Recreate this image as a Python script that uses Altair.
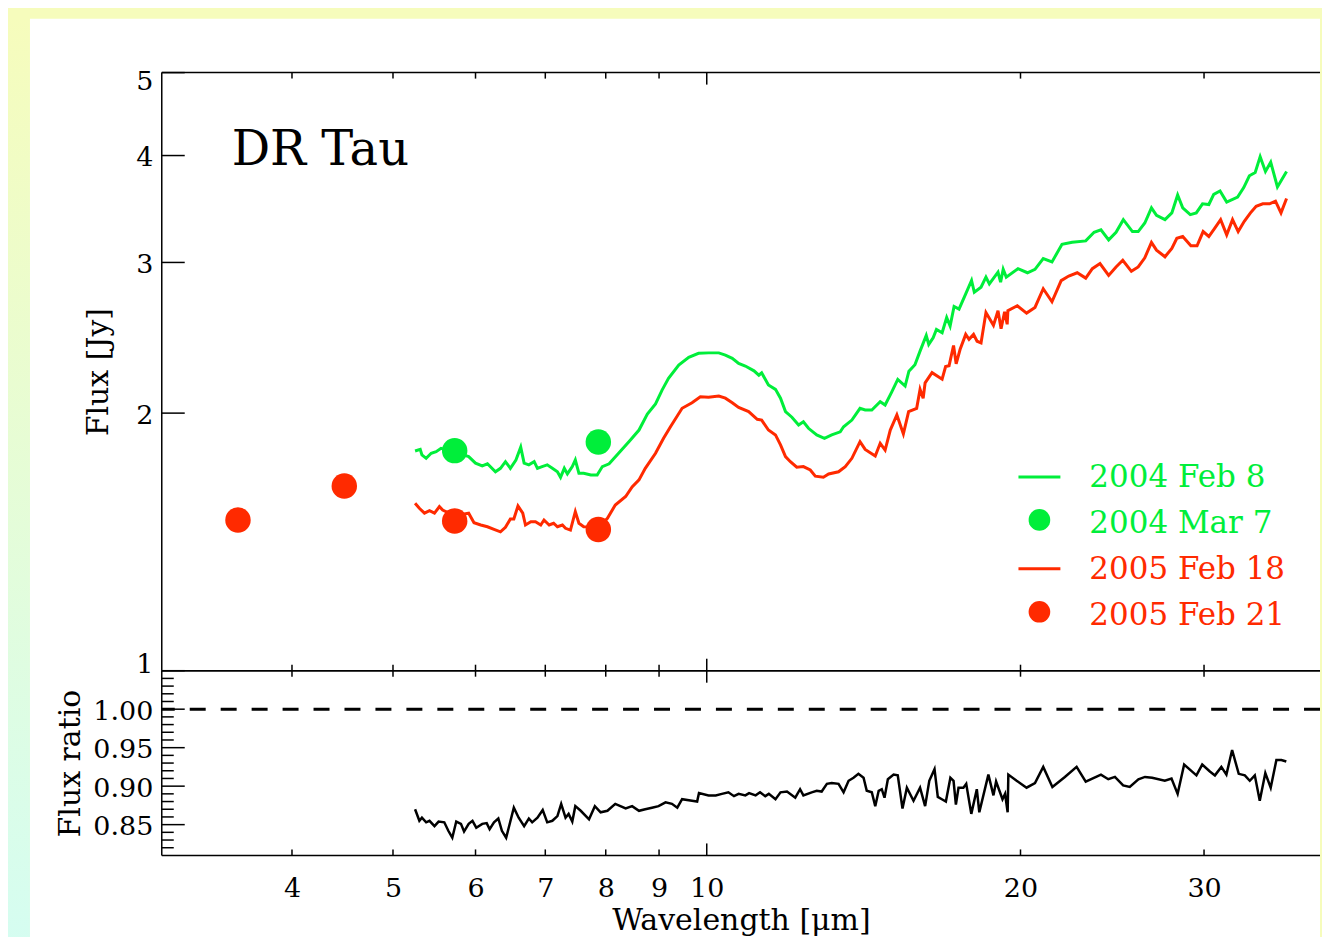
import altair as alt
import pandas as pd

FONT = "DejaVu Serif"
GREEN = "#00ee3a"
RED = "#ff2a00"
YELLOW = "#f6fcbc"
CYAN = "#d5fdf1"

# ---------------- data ----------------
wl_2004_feb8 = [5.25, 5.31, 5.33, 5.38, 5.44, 5.50, 5.56, 5.73, 5.91, 6.00,
                6.09, 6.16, 6.27, 6.34, 6.41, 6.48, 6.56, 6.63, 6.68, 6.75,
                6.83, 6.88, 6.95, 7.03, 7.11, 7.19, 7.24, 7.30, 7.35, 7.43,
                7.48, 7.54, 7.62, 7.74, 7.85, 7.94, 8.06, 8.23, 8.42, 8.61,
                8.77, 8.93, 9.06, 9.19, 9.40, 9.61, 9.82, 10.04, 10.27, 10.42,
                10.58, 10.73, 10.89, 11.10, 11.22, 11.29, 11.46, 11.64, 11.77, 11.90,
                12.07, 12.25, 12.38, 12.52, 12.75, 12.97, 13.18, 13.43, 13.53, 13.78,
                14.03, 14.19, 14.40, 14.67, 14.83, 15.05, 15.25, 15.50, 15.63, 15.84,
                16.02, 16.24, 16.33, 16.49, 16.61, 16.82, 16.99, 17.12, 17.27, 17.46,
                17.72, 17.95, 18.06, 18.33, 18.53, 18.67, 19.03, 19.14, 19.25, 19.38,
                19.89, 20.31, 20.65, 21.03, 21.44, 21.92, 22.42, 23.10, 23.53, 23.89,
                24.30, 24.70, 25.10, 25.61, 25.94, 26.32, 26.71, 27.01, 27.52, 27.94,
                28.30, 28.62, 29.10, 29.49, 29.90, 30.32, 30.65, 31.08, 31.54, 32.31,
                32.75, 33.16, 33.59, 33.96, 34.36, 34.76, 35.28, 36.00]
flux_2004_feb8 = [1.806, 1.814, 1.787, 1.771, 1.795, 1.803, 1.819, 1.801, 1.779, 1.748,
                  1.735, 1.745, 1.708, 1.724, 1.755, 1.724, 1.763, 1.825, 1.748, 1.740,
                  1.755, 1.724, 1.732, 1.740, 1.724, 1.708, 1.683, 1.724, 1.698, 1.732,
                  1.763, 1.701, 1.701, 1.693, 1.693, 1.732, 1.745, 1.795, 1.852, 1.911,
                  1.995, 2.050, 2.128, 2.196, 2.276, 2.324, 2.349, 2.352, 2.352, 2.338,
                  2.318, 2.286, 2.270, 2.241, 2.215, 2.229, 2.157, 2.132, 2.082, 2.008,
                  1.978, 1.937, 1.954, 1.920, 1.886, 1.869, 1.886, 1.902, 1.928, 1.963,
                  2.026, 2.017, 2.017, 2.062, 2.044, 2.118, 2.190, 2.151, 2.239, 2.278,
                  2.363, 2.465, 2.406, 2.450, 2.505, 2.483, 2.587, 2.528, 2.665, 2.646,
                  2.757, 2.858, 2.769, 2.807, 2.884, 2.832, 2.923, 2.845, 2.945, 2.884,
                  2.950, 2.918, 2.945, 3.032, 3.004, 3.150, 3.167, 3.179, 3.254, 3.275,
                  3.188, 3.254, 3.366, 3.260, 3.260, 3.336, 3.475, 3.406, 3.366, 3.428,
                  3.597, 3.475, 3.412, 3.428, 3.513, 3.506, 3.603, 3.636, 3.529, 3.576,
                  3.669, 3.788, 3.822, 3.988, 3.833, 3.929, 3.676, 3.833]

wl_2005_feb18 = [5.25, 5.30, 5.36, 5.42, 5.48, 5.54, 5.58, 5.73, 5.91, 5.98,
                 6.07, 6.16, 6.25, 6.34, 6.41, 6.48, 6.53, 6.59, 6.66, 6.70,
                 6.78, 6.85, 6.93, 6.98, 7.06, 7.13, 7.19, 7.27, 7.32, 7.40,
                 7.48, 7.54, 7.62, 7.88, 8.03, 8.17, 8.36, 8.48, 8.61, 8.73,
                 8.93, 9.09, 9.23, 9.47, 9.68, 9.86, 10.04, 10.27, 10.42, 10.58,
                 10.73, 10.97, 11.18, 11.29, 11.46, 11.64, 11.77, 11.90, 12.03, 12.20,
                 12.38, 12.57, 12.71, 12.94, 13.09, 13.38, 13.58, 13.78, 14.03, 14.19,
                 14.51, 14.67, 14.83, 15.00, 15.22, 15.44, 15.62, 15.90, 16.02, 16.13,
                 16.20, 16.45, 16.82, 16.95, 17.08, 17.25, 17.35, 17.50, 17.72, 17.85,
                 18.03, 18.17, 18.33, 18.53, 18.84, 19.03, 19.16, 19.31, 19.42, 19.45,
                 19.86, 20.27, 20.65, 21.03, 21.44, 21.88, 22.25, 22.67, 23.10, 23.44,
                 23.84, 24.30, 24.70, 25.07, 25.55, 25.94, 26.32, 26.71, 27.01, 27.52,
                 27.94, 28.25, 28.62, 29.14, 29.54, 29.94, 30.32, 30.71, 31.12, 31.54,
                 31.95, 32.35, 32.79, 33.24, 33.66, 34.16, 34.68, 35.13, 35.56, 36.00]
flux_2005_feb18 = [1.569, 1.548, 1.528, 1.538, 1.528, 1.555, 1.541, 1.517, 1.528, 1.489,
                   1.480, 1.473, 1.463, 1.453, 1.471, 1.504, 1.504, 1.558, 1.528, 1.480,
                   1.493, 1.493, 1.480, 1.500, 1.480, 1.487, 1.473, 1.480, 1.467, 1.460,
                   1.534, 1.487, 1.473, 1.472, 1.507, 1.562, 1.598, 1.640, 1.671, 1.724,
                   1.795, 1.869, 1.928, 2.026, 2.057, 2.090, 2.087, 2.094, 2.082, 2.057,
                   2.031, 2.008, 1.967, 1.963, 1.911, 1.886, 1.836, 1.779, 1.755, 1.729,
                   1.732, 1.716, 1.688, 1.683, 1.698, 1.708, 1.732, 1.771, 1.852, 1.814,
                   1.782, 1.844, 1.811, 1.911, 1.990, 1.891, 2.008, 2.026, 2.132, 2.082,
                   2.170, 2.230, 2.191, 2.267, 2.272, 2.399, 2.284, 2.373, 2.472, 2.439,
                   2.472, 2.427, 2.416, 2.622, 2.533, 2.634, 2.510, 2.627, 2.540, 2.634,
                   2.670, 2.618, 2.658, 2.795, 2.699, 2.857, 2.892, 2.918, 2.876, 2.950,
                   2.991, 2.897, 2.964, 3.018, 2.929, 2.964, 3.038, 3.167, 3.101, 3.046,
                   3.116, 3.202, 3.217, 3.138, 3.138, 3.260, 3.217, 3.289, 3.366, 3.231,
                   3.366, 3.260, 3.351, 3.428, 3.490, 3.513, 3.513, 3.538, 3.428, 3.564]

irac_wl_2004_mar7 = [5.73, 7.87]
irac_flux_2004_mar7 = [1.808, 1.850]
irac_wl_2005_feb21 = [3.55, 4.49, 5.73, 7.87]
irac_flux_2005_feb21 = [1.500, 1.644, 1.496, 1.462]

ratio_wl = [5.25, 5.30, 5.33, 5.38, 5.42, 5.48, 5.53, 5.60, 5.65, 5.70,
            5.75, 5.81, 5.85, 5.91, 5.96, 6.01, 6.09, 6.15, 6.19, 6.25,
            6.31, 6.36, 6.42, 6.53, 6.60, 6.68, 6.75, 6.80, 6.88, 6.96,
            7.03, 7.11, 7.19, 7.25, 7.32, 7.37, 7.43, 7.48, 7.57, 7.71,
            7.81, 7.91, 8.03, 8.17, 8.36, 8.48, 8.61, 8.73, 8.86, 8.99,
            9.13, 9.26, 9.37, 9.47, 9.68, 9.79, 9.83, 10.04, 10.20, 10.34,
            10.49, 10.62, 10.73, 10.89, 10.98, 11.14, 11.25, 11.38, 11.47, 11.64,
            11.77, 11.94, 12.16, 12.29, 12.38, 12.61, 12.75, 12.89, 13.04, 13.18,
            13.38, 13.53, 13.68, 13.83, 13.98,
            14.14, 14.24, 14.40, 14.51, 14.62, 14.72, 14.81, 14.92, 15.11, 15.25,
            15.41, 15.56, 15.79, 16.02, 16.20, 16.35, 16.54, 16.66, 16.81, 16.96,
            17.13, 17.25, 17.34, 17.44, 17.63, 17.74, 17.94, 18.16, 18.26, 18.63,
            18.84, 18.95, 19.22, 19.33, 19.44, 19.47, 19.83, 20.27, 20.65, 21.03,
            21.46, 22.06, 22.64, 23.10, 23.89, 24.28, 24.64, 25.09, 25.46, 25.95,
            26.33, 26.75, 27.51, 27.92, 28.30, 28.71, 29.50, 29.88, 30.39, 30.73,
            31.17, 31.52, 31.92, 32.39, 32.83, 33.19, 33.56, 33.93, 34.35, 34.76,
            35.20, 35.59, 35.98]
ratio_val = [0.870, 0.855, 0.859, 0.853, 0.855, 0.848, 0.854, 0.853, 0.842, 0.833,
             0.854, 0.851, 0.841, 0.851, 0.855, 0.846, 0.851, 0.852, 0.844, 0.853,
             0.858, 0.842, 0.833, 0.872, 0.859, 0.848, 0.858, 0.853, 0.859, 0.869,
             0.853, 0.855, 0.861, 0.877, 0.859, 0.864, 0.854, 0.874, 0.868, 0.857,
             0.874, 0.866, 0.868, 0.877, 0.871, 0.874, 0.868, 0.870, 0.872, 0.874,
             0.879, 0.877, 0.872, 0.883, 0.881, 0.880, 0.891, 0.888, 0.888, 0.890,
             0.892, 0.887, 0.890, 0.888, 0.891, 0.888, 0.892, 0.887, 0.890, 0.883,
             0.892, 0.893, 0.885, 0.896, 0.888, 0.892, 0.894, 0.893, 0.903, 0.904,
             0.903, 0.892, 0.907, 0.911, 0.916,
             0.911, 0.894, 0.892, 0.874, 0.894, 0.896, 0.885, 0.909, 0.915, 0.914,
             0.871, 0.898, 0.881, 0.898, 0.874, 0.907, 0.922, 0.886, 0.883, 0.880,
             0.911, 0.907, 0.876, 0.898, 0.898, 0.903, 0.864, 0.896, 0.866, 0.915,
             0.888, 0.906, 0.883, 0.890, 0.866, 0.915, 0.907, 0.898, 0.904, 0.925,
             0.899, 0.912, 0.925, 0.906, 0.915, 0.909, 0.912, 0.901, 0.899, 0.909,
             0.912, 0.911, 0.907, 0.910, 0.890, 0.928, 0.914, 0.928, 0.919, 0.914,
             0.925, 0.915, 0.947, 0.916, 0.914, 0.907, 0.914, 0.881, 0.917, 0.898,
             0.934, 0.934, 0.932]

series_names = ["2004 Feb 8", "2004 Mar 7", "2005 Feb 18", "2005 Feb 21"]
series_colors = [GREEN, GREEN, RED, RED]
series_kinds = ["line", "dot", "line", "dot"]

x_tick_labels = [4, 5, 6, 7, 8, 9, 10, 20, 30]
x_tick_major = [10]
x_tick_minor = [4, 5, 6, 7, 8, 9, 20, 30]
y_top_ticks = [1, 2, 3, 4, 5]
y_bot_major = [0.85, 0.90, 0.95, 1.00]
y_bot_minor = [0.82, 0.83, 0.84, 0.86, 0.87, 0.88, 0.89, 0.91, 0.92, 0.93,
               0.94, 0.96, 0.97, 0.98, 0.99, 1.01, 1.02, 1.03, 1.04]
ratio_reference = [1.0]

# ---------------- layout ----------------
W = 1160
H_TOP = 599
H_BOT = 185

XS = alt.Scale(type="log", domain=[3, 38.76], nice=False)
YS_TOP = alt.Scale(type="log", domain=[1, 5], nice=False)
YS_BOT = alt.Scale(type="linear", domain=[0.81, 1.05], nice=False, zero=False)

YAX_TOP = alt.Axis(values=y_top_ticks, format="d", labelPadding=9, labelFlush=True,
                   labelFlushOffset=6, labelOffset=2, title="Flux [Jy]", titleX=-63,
                   titleY=H_TOP / 2, titleAngle=270, titleAlign="center",
                   titleBaseline="middle", zindex=1)
YAX_BOT = alt.Axis(values=y_bot_major, format=".2f", labelPadding=9, labelOffset=2,
                   labelFlush=False, title="Flux ratio", titleX=-91, titleY=H_BOT / 2,
                   titleAngle=270, titleAlign="center", titleBaseline="middle", zindex=1)
XAX_BOT = alt.Axis(values=x_tick_labels, format="d", labelPadding=20, labelFlush=False,
                   title="Wavelength [μm]", titleY=74, titleBaseline="alphabetic", zindex=1)

one = pd.DataFrame({"a": [0]})


def xtick_layer(values, length, height, edge, axis):
    y0, y1 = (0, length) if edge == "top" else (height - length, height)
    return alt.Chart(pd.DataFrame({"v": values})).mark_rule(
        color="black", strokeWidth=1.5).encode(
        x=alt.X("v:Q", scale=XS, axis=axis), y=alt.value(y0), y2=alt.value(y1))


def ytick_layer(values, length, yscale, axis):
    return alt.Chart(pd.DataFrame({"v": values})).mark_rule(
        color="black", strokeWidth=1.5).encode(
        y=alt.Y("v:Q", scale=yscale, axis=axis), x=alt.value(0), x2=alt.value(length))


def frame_layers(height):
    sty = dict(color="black", strokeWidth=1.5)
    return [
        alt.Chart(one).mark_rule(**sty).encode(x=alt.value(0), x2=alt.value(W), y=alt.value(0)),
        alt.Chart(one).mark_rule(**sty).encode(x=alt.value(0), x2=alt.value(W), y=alt.value(height)),
        alt.Chart(one).mark_rule(**sty).encode(x=alt.value(0), y=alt.value(0), y2=alt.value(height)),
    ]


# background card (white) with a tinted strip on its left
strip = alt.Chart(one).mark_rect(
    color=alt.LinearGradient(
        gradient="linear", x1=0, x2=0, y1=0, y2=1,
        stops=[alt.GradientStop(color=YELLOW, offset=0),
               alt.GradientStop(color=CYAN, offset=1)])).encode(
    x=alt.value(-154), x2=alt.value(-132), y=alt.value(-54), y2=alt.value(873))
card = alt.Chart(one).mark_rect(color="white").encode(
    x=alt.value(-132), x2=alt.value(W), y=alt.value(-54), y2=alt.value(873))

spec_df = pd.concat([
    pd.DataFrame({"wl": wl_2004_feb8, "flux": flux_2004_feb8, "series": series_names[0]}),
    pd.DataFrame({"wl": wl_2005_feb18, "flux": flux_2005_feb18, "series": series_names[2]}),
])
phot_df = pd.concat([
    pd.DataFrame({"wl": irac_wl_2004_mar7, "flux": irac_flux_2004_mar7, "series": series_names[1]}),
    pd.DataFrame({"wl": irac_wl_2005_feb21, "flux": irac_flux_2005_feb21, "series": series_names[3]}),
])
color_enc = alt.Color("series:N", scale=alt.Scale(domain=series_names, range=series_colors),
                      legend=None)

lines = alt.Chart(spec_df).mark_line(strokeWidth=3).encode(
    x=alt.X("wl:Q", scale=XS, axis=None),
    y=alt.Y("flux:Q", scale=YS_TOP, axis=YAX_TOP),
    color=color_enc, detail="series:N")
points = alt.Chart(phot_df).mark_circle(size=650, opacity=1).encode(
    x=alt.X("wl:Q", scale=XS, axis=None),
    y=alt.Y("flux:Q", scale=YS_TOP, axis=YAX_TOP),
    color=color_enc)

target = alt.Chart(pd.DataFrame({"t": ["DR Tau"]})).mark_text(
    font=FONT, fontSize=48, align="left", baseline="alphabetic", color="black").encode(
    text="t:N", x=alt.value(70), y=alt.value(93))

legend_layers = []
base_y = 415
step = 46
for i, (lab, col, kind) in enumerate(zip(series_names, series_colors, series_kinds)):
    yb = base_y + i * step
    legend_layers.append(alt.Chart(pd.DataFrame({"t": [lab]})).mark_text(
        font=FONT, fontSize=31, align="left", baseline="alphabetic", color=col).encode(
        text="t:N", x=alt.value(929), y=alt.value(yb)))
    if kind == "line":
        legend_layers.append(alt.Chart(one).mark_rule(color=col, strokeWidth=3).encode(
            x=alt.value(858), x2=alt.value(900), y=alt.value(yb - 10)))
    else:
        legend_layers.append(alt.Chart(one).mark_point(
            shape="circle", filled=True, size=470, opacity=1, color=col).encode(
            x=alt.value(879), y=alt.value(yb - 13)))

top_ticks = [
    xtick_layer(x_tick_major, 12, H_TOP, "top", None),
    xtick_layer(x_tick_minor, 6, H_TOP, "top", None),
    xtick_layer(x_tick_major, 12, H_TOP, "bottom", None),
    xtick_layer(x_tick_minor, 6, H_TOP, "bottom", None),
    ytick_layer(y_top_ticks, 23, YS_TOP, YAX_TOP),
]

top = alt.layer(strip, card, lines, points, target, *top_ticks, *frame_layers(H_TOP),
                *legend_layers).properties(width=W, height=H_TOP)

ratio_df = pd.DataFrame({"wl": ratio_wl, "ratio": ratio_val})
dashed = alt.Chart(pd.DataFrame({"v": ratio_reference})).mark_rule(
    color="black", strokeWidth=3, strokeDash=[16, 15]).encode(
    y=alt.Y("v:Q", scale=YS_BOT, axis=YAX_BOT))
ratio_line = alt.Chart(ratio_df).mark_line(color="black", strokeWidth=2.5).encode(
    x=alt.X("wl:Q", scale=XS, axis=XAX_BOT),
    y=alt.Y("ratio:Q", scale=YS_BOT, axis=YAX_BOT))

bot_ticks = [
    xtick_layer(x_tick_major, 12, H_BOT, "top", XAX_BOT),
    xtick_layer(x_tick_minor, 6, H_BOT, "top", XAX_BOT),
    xtick_layer(x_tick_major, 12, H_BOT, "bottom", XAX_BOT),
    xtick_layer(x_tick_minor, 6, H_BOT, "bottom", XAX_BOT),
    ytick_layer(y_bot_major, 23, YS_BOT, YAX_BOT),
    ytick_layer(y_bot_minor, 12, YS_BOT, YAX_BOT),
]

bottom = alt.layer(dashed, ratio_line, *bot_ticks, *frame_layers(H_BOT)).properties(
    width=W, height=H_BOT)

chart = alt.vconcat(top, bottom, spacing=0, bounds="flush").properties(
    padding={"left": 0, "top": 10, "right": 0, "bottom": 0},
    background=YELLOW,
).configure_view(
    stroke=None
).configure_axis(
    labelFont=FONT, labelFontSize=27, labelColor="black",
    titleFont=FONT, titleFontSize=30, titleFontWeight="normal", titleColor="black",
    ticks=False, domain=False, grid=False, tickSize=0,
    labelOverlap=False, labelBound=False,
)

chart.save("out.html", embed_options={"renderer": "svg", "actions": False})
